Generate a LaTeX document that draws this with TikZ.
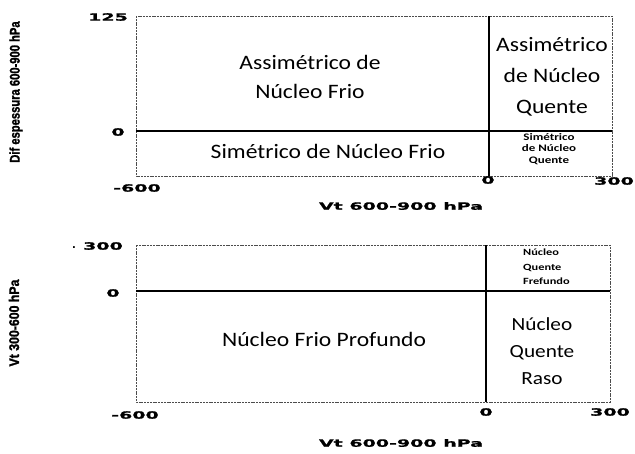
\documentclass[tikz,border=0pt]{standalone}
\usepackage{fontspec}
\setmainfont{Carlito}
\newfontfamily\mainw[FakeStretch=1.15]{Carlito}
\newfontfamily\smallw[FakeStretch=1.3]{Carlito Bold}
\newfontfamily\tickf[FakeStretch=1.9,FakeBold=1.2]{DejaVu Sans Bold}
\newfontfamily\dotf{DejaVu Sans Bold}
\newfontfamily\ylabf[FakeStretch=0.8,FakeBold=1.5]{Liberation Sans Bold}
\newfontfamily\ylabg[FakeStretch=0.88,FakeBold=1.5]{Liberation Sans Bold}
\tikzset{
  boxline/.style={draw=black!70, line width=0.6pt, dash pattern=on 2pt off 0.8pt},
  hzero/.style={draw=black, line width=1.6pt},
  vzero/.style={draw=black, line width=2.6pt},
  bigtxt/.style={inner sep=0pt, align=center, font={\mainw\fontsize{20.5}{29}\selectfont}},
  bigtxtq/.style={inner sep=0pt, align=center, font={\mainw\fontsize{20.5}{31}\selectfont}},
  midtxt/.style={inner sep=0pt, align=center, font={\mainw\fontsize{18.5}{27}\selectfont}},
  tinytxt/.style={inner sep=0pt, align=center, font={\smallw\fontsize{10}{11.5}\selectfont}},
  tinytxtl/.style={inner sep=0pt, align=left, font={\smallw\fontsize{9.5}{14.5}\selectfont}},
  ticktxt/.style={inner sep=0pt, font={\tickf\fontsize{10}{12}\selectfont}},
  dottxt/.style={inner sep=0pt, font={\dotf\fontsize{10}{12}\selectfont}},
  ylabtxt/.style={inner sep=0pt, rotate=90, font={\ylabf\fontsize{14}{16}\selectfont}},
  ylabtxtb/.style={inner sep=0pt, rotate=90, font={\ylabg\fontsize{14}{16}\selectfont}}
}
\begin{document}
\begin{tikzpicture}[x=1pt,y=-1pt]
\useasboundingbox[fill=white] (0,0) rectangle (635,453);
% ---------- top panel ----------
\coordinate (tnw) at (136,16);
\coordinate (tse) at (612,176);
\coordinate (th0) at (136,131);
\coordinate (th1) at (612,131);
\coordinate (tv0) at (489,16);
\coordinate (tv1) at (489,176);
\draw[boxline] (tnw) rectangle (tse);
\draw[hzero] (th0) -- (th1);
\draw[vzero] (tv0) -- (tv1);
\node[bigtxt] (acf) at (310,77) {Assimétrico de\\Núcleo Frio};
\node[bigtxt] (scf) at (328,151) {Simétrico de Núcleo Frio};
\node[bigtxtq] (aqn) at (552,77) {Assimétrico\\de Núcleo\\Quente};
\node[tinytxt] (sqn) at (549,149) {Simétrico\\de Núcleo\\Quente};
\node[ticktxt] (t125) at (108,17) {125};
\node[ticktxt] (t0y) at (118,132) {0};
\node[ticktxt] (tm600) at (137,188) {-600};
\node[ticktxt] (t0x) at (488,180) {0};
\node[ticktxt] (t300) at (614,181) {300};
\node[ticktxt] (txt) at (401,206) {Vt 600-900 hPa};
\node[ylabtxt] (tyl) at (16,92) {Dif espessura 600-900 hPa};
% ---------- bottom panel ----------
\coordinate (bnw) at (136,245);
\coordinate (bse) at (610,402);
\coordinate (bh0) at (136,291);
\coordinate (bh1) at (610,291);
\coordinate (bv0) at (486,245);
\coordinate (bv1) at (486,402);
\draw[boxline] (bnw) rectangle (bse);
\draw[hzero] (bh0) -- (bh1);
\draw[vzero] (bv0) -- (bv1);
\node[tinytxtl, anchor=west] (nqp) at (523,267) {Núcleo\\Quente\\Frefundo};
\node[bigtxt] (nfp) at (324,339) {Núcleo Frio Profundo};
\node[midtxt] (nqr) at (542,351) {Núcleo\\Quente\\Raso};
\node[dottxt] (bdot) at (74,248) {.};
\node[ticktxt, anchor=east] (b300) at (123,246) {300};
\node[ticktxt] (b0y) at (113,293) {0};
\node[ticktxt] (bm600) at (135,415) {-600};
\node[ticktxt] (b0x) at (486,412) {0};
\node[ticktxt] (b300x) at (610,412) {300};
\node[ticktxt] (bxt) at (401,443) {Vt 600-900 hPa};
\node[ylabtxtb] (byl) at (14,323) {Vt 300-600 hPa};
\end{tikzpicture}
\end{document}
